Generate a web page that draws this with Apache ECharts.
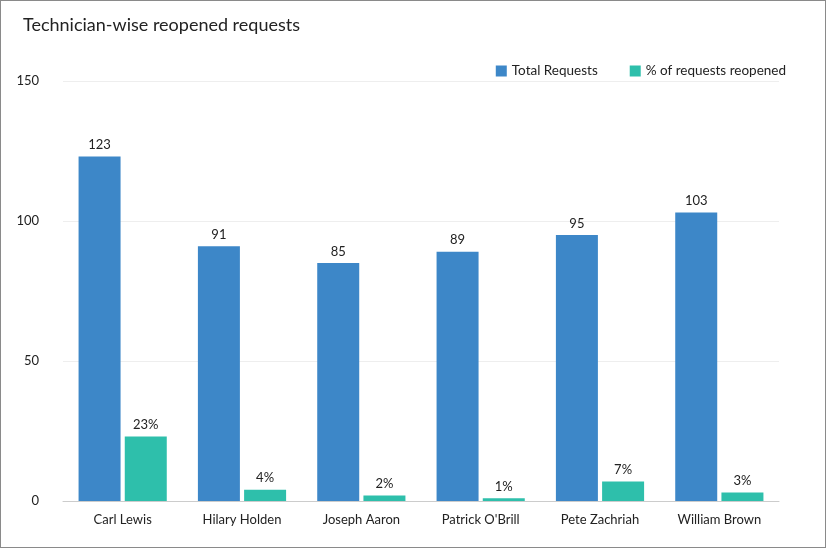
<!DOCTYPE html><html><head><meta charset="utf-8">
<script src="https://cdn.jsdelivr.net/npm/echarts@6/dist/echarts.min.js"></script>
<style>html,body{margin:0;padding:0}#c{width:826px;height:548px;box-sizing:border-box;border:1px solid #8a8a8a}</style>
</head><body><div id="c"></div><script>
const categories=["Carl Lewis","Hilary Holden","Joseph Aaron","Patrick O'Brill","Pete Zachriah","William Brown"];
const totalRequests=[123,91,85,89,95,103];
const pctReopened=[23,4,2,1,7,3];
const yTicks=[0,50,100,150];
const ch=echarts.init(document.getElementById('c'));
const F='Lato, "Noto Sans", sans-serif';
ch.setOption({
 animation:false,
 textStyle:{fontFamily:F},
 title:{text:'Technician-wise reopened requests',left:17,top:10,textStyle:{fontSize:18,fontWeight:'normal',color:'#222',fontFamily:F}},
 legend:{right:34,top:58,itemWidth:11,itemHeight:11,itemGap:32,icon:'rect',textStyle:{fontSize:13.5,color:'#222'},
  data:['Total Requests','% of requests reopened']},
 grid:{left:62,right:46,top:80,bottom:46},
 xAxis:{type:'category',data:categories,axisTick:{show:false},axisLine:{lineStyle:{color:'#ccc'}},
  axisLabel:{color:'#222',fontSize:13,margin:12}},
 yAxis:{type:'value',min:yTicks[0],max:yTicks[yTicks.length-1],interval:50,
  axisLabel:{color:'#222',fontSize:13,margin:24},splitLine:{lineStyle:{color:'#eee'}}},
 series:[
  {name:'Total Requests',type:'bar',data:totalRequests,barWidth:42,barGap:'10%',itemStyle:{color:'#3d87c8'},
   label:{show:true,position:'top',color:'#222',fontSize:13}},
  {name:'% of requests reopened',type:'bar',data:pctReopened,barWidth:42,itemStyle:{color:'#2ebfab'},
   label:{show:true,position:'top',color:'#222',fontSize:13,formatter:'{c}%'}}
 ]
});
</script></body></html>
